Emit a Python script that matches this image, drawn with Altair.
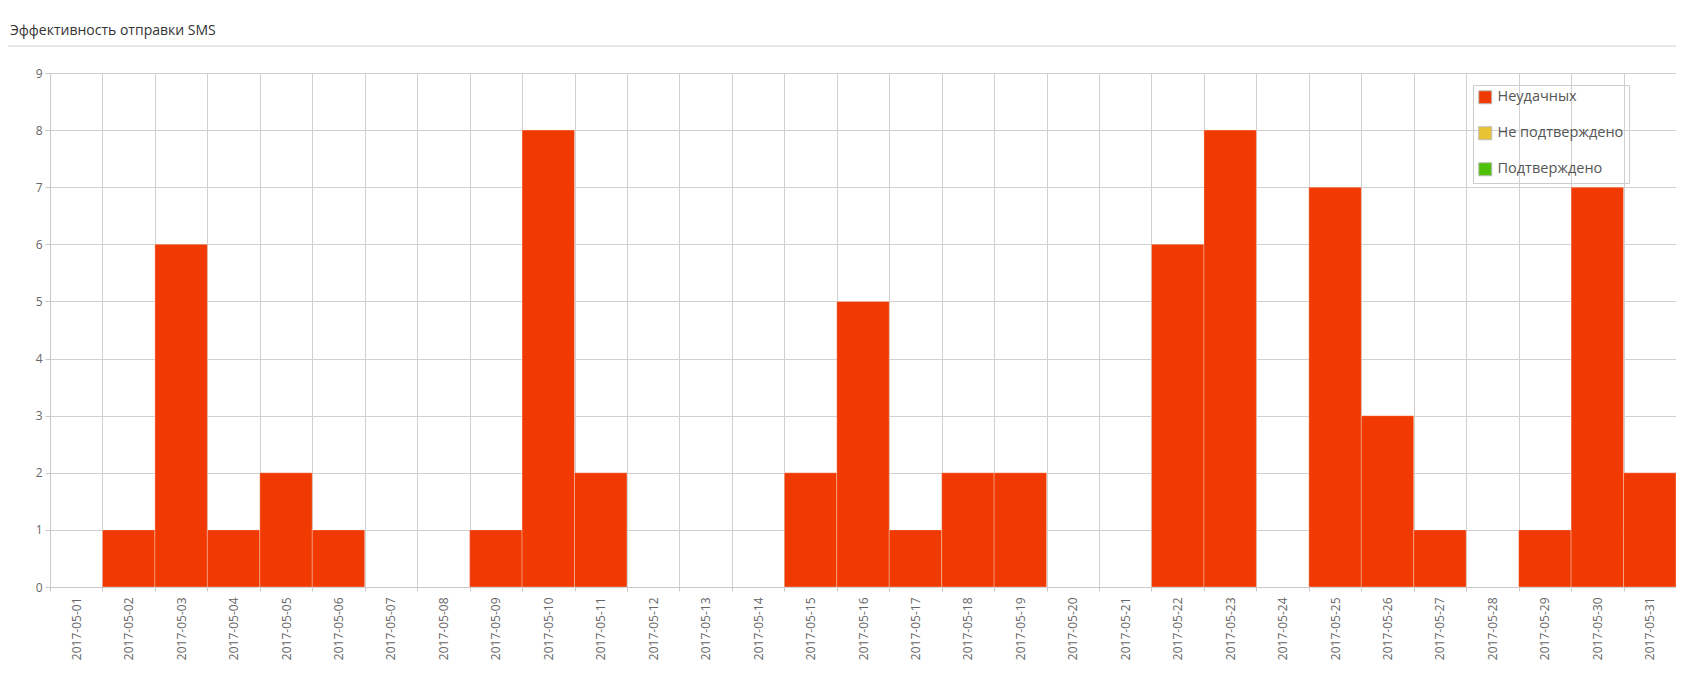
import altair as alt
import pandas as pd

dates = [f"2017-05-{d:02d}" for d in range(1, 32)]
failed = [0, 1, 6, 1, 2, 1, 0, 0, 1, 8, 2, 0, 0, 0, 2, 5, 1, 2, 2, 0, 0, 6, 8, 0, 7, 3, 1, 0, 1, 7, 2]
unconfirmed = [0] * 31
confirmed = [0] * 31

series_names = ["Неудачных", "Не подтверждено", "Подтверждено"]
series_colors = ["#f03a02", "#e8c333", "#4fc106"]

rows = []
for name, vals in zip(series_names, [failed, unconfirmed, confirmed]):
    for d, v in zip(dates, vals):
        rows.append({"date": d, "series": name, "value": v, "order": series_names.index(name)})
df = pd.DataFrame(rows)

W, H = 1626, 514
FONT = "Open Sans"

bars = alt.Chart(df).transform_filter("datum.value > 0").mark_bar(
    stroke="white", strokeWidth=1, strokeOpacity=0.3
).encode(
    x=alt.X("date:O", sort=dates, title=None,
            scale=alt.Scale(domain=dates, paddingInner=0, paddingOuter=0),
            axis=alt.Axis(labelAngle=-90, tickBand="extent", grid=True,
                          gridColor="#d0d0d0", domainColor="#c8c8c8", tickColor="#c8c8c8",
                          tickSize=4, labelPadding=6, labelFontSize=12, labelColor="#666",
                          labelFont=FONT)),
    y=alt.Y("value:Q", title=None, stack="zero",
            scale=alt.Scale(domain=[0, 9], nice=False),
            axis=alt.Axis(values=list(range(10)), grid=True, gridColor="#d0d0d0",
                          domainColor="#c8c8c8", tickColor="#c8c8c8", tickSize=5,
                          labelPadding=3, labelFontSize=12, labelColor="#666",
                          labelFont=FONT)),
    color=alt.Color("series:N",
                    scale=alt.Scale(domain=series_names, range=series_colors),
                    legend=alt.Legend(orient="none", legendX=1423, legendY=12, title=None,
                                      direction="vertical", strokeColor="#cccccc",
                                      padding=5, symbolType="square", symbolSize=169,
                                      symbolStrokeColor="#bbbbbb", symbolStrokeWidth=1,
                                      labelFontSize=14.5, labelColor="#555", labelFont=FONT,
                                      rowPadding=18, labelOffset=5)),
    order=alt.Order("order:Q"),
)

sep = alt.Chart(pd.DataFrame({"a": [0]})).mark_rule(color="#d0d0d0", strokeWidth=1).encode(
    x=alt.value(-42), x2=alt.value(W), y=alt.value(-27)
)

chart = alt.layer(bars, sep).properties(
    width=W, height=H,
    autosize=alt.AutoSizeParams(type="none"),
    padding={"left": 42, "top": 65, "right": 0, "bottom": 78},
    title=alt.TitleParams("Эффективность отправки SMS", anchor="start", frame="group",
                          dx=-40, offset=8, fontSize=14, font=FONT, color="#333",
                          fontWeight="normal"),
).configure_view(stroke="#c8c8c8")

chart.save("out.html", embed_options={"renderer": "svg", "actions": False})
